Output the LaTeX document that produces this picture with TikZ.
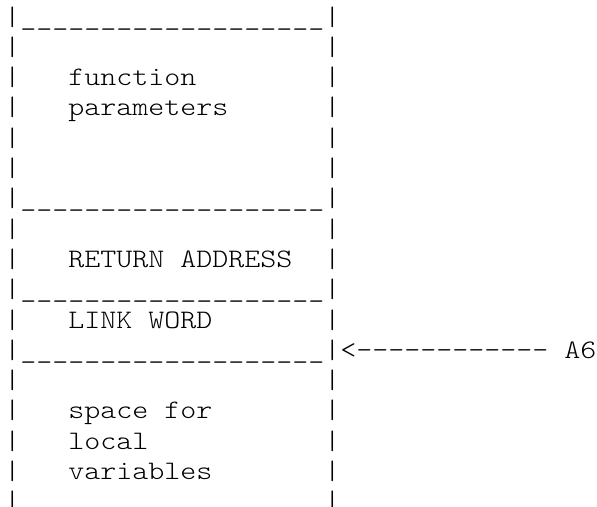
\documentclass[tikz,border=0pt]{standalone}
\usepackage{fontspec}
\newfontfamily\cmono{lmmonolt10-regular.otf}[FakeStretch=1.1415]
\begin{document}
\begin{tikzpicture}[x=1pt,y=1pt,
  asciiline/.style={anchor=base west,inner sep=0pt,outer sep=0pt,
    font=\cmono\fontsize{26.7pt}{30.3pt}\selectfont}]
\useasboundingbox (0,0) rectangle (597,-506);
\node[asciiline] (l0)  at (4.3,-25.0) {|\_\_\_\_\_\_\_\_\_\_\_\_\_\_\_\_\_\_\_|};
\node[asciiline] (l1)  at (4.3,-55.3) {|~~~~~~~~~~~~~~~~~~~|};
\node[asciiline] (l2)  at (4.3,-85.6) {|~~~function~~~~~~~~|};
\node[asciiline] (l3)  at (4.3,-115.9) {|~~~parameters~~~~~~|};
\node[asciiline] (l4)  at (4.3,-146.2) {|~~~~~~~~~~~~~~~~~~~|};
\node[asciiline] (l5)  at (4.3,-176.5) {|~~~~~~~~~~~~~~~~~~~|};
\node[asciiline] (l6)  at (4.3,-206.8) {|\_\_\_\_\_\_\_\_\_\_\_\_\_\_\_\_\_\_\_|};
\node[asciiline] (l7)  at (4.3,-237.1) {|~~~~~~~~~~~~~~~~~~~|};
\node[asciiline] (l8)  at (4.3,-267.4) {|~~~RETURN~ADDRESS~~|};
\node[asciiline] (l9)  at (4.3,-297.7) {|\_\_\_\_\_\_\_\_\_\_\_\_\_\_\_\_\_\_\_|};
\node[asciiline] (l10) at (4.3,-328.0) {|~~~LINK~WORD~~~~~~~|};
\node[asciiline] (l11) at (4.3,-358.3) {|\_\_\_\_\_\_\_\_\_\_\_\_\_\_\_\_\_\_\_|<{-}{-}{-}{-}{-}{-}{-}{-}{-}{-}{-}{-}~A6};
\node[asciiline] (l12) at (4.3,-388.6) {|~~~~~~~~~~~~~~~~~~~|};
\node[asciiline] (l13) at (4.3,-418.9) {|~~~space~for~~~~~~~|};
\node[asciiline] (l14) at (4.3,-449.2) {|~~~local~~~~~~~~~~~|};
\node[asciiline] (l15) at (4.3,-479.5) {|~~~variables~~~~~~~|};
\node[asciiline] (l16) at (4.3,-509.8) {|~~~~~~~~~~~~~~~~~~~|};
\end{tikzpicture}
\end{document}
